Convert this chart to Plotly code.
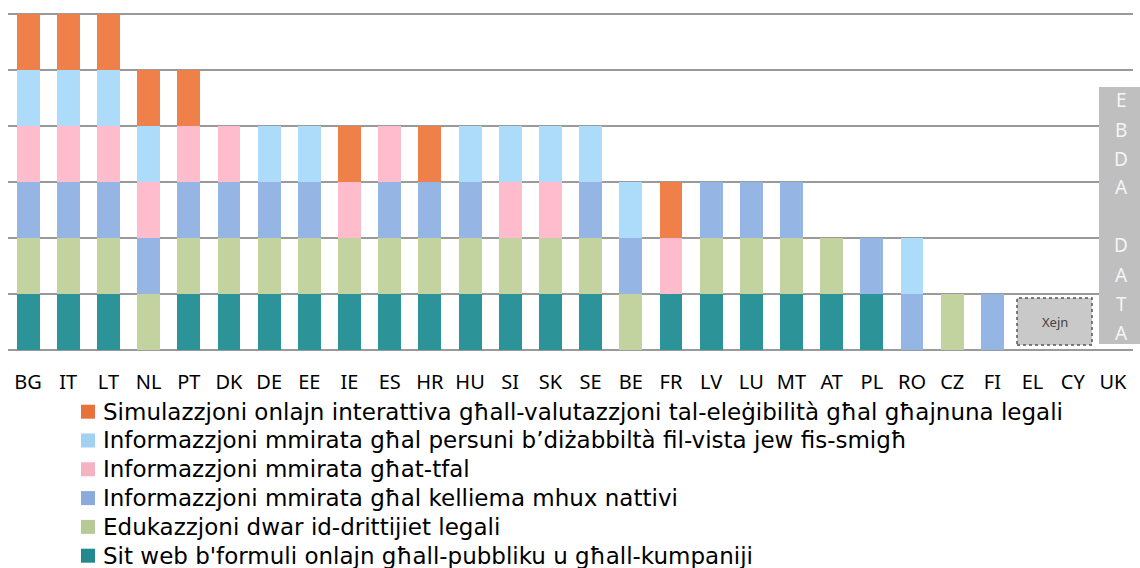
import plotly.graph_objects as go

countries = ["BG", "IT", "LT", "NL", "PT", "DK", "DE", "EE", "IE", "ES", "HR", "HU", "SI", "SK",
             "SE", "BE", "FR", "LV", "LU", "MT", "AT", "PL", "RO", "CZ", "FI", "EL", "CY", "UK"]

website    = [1, 1, 1, 0, 1, 1, 1, 1, 1, 1, 1, 1, 1, 1, 1, 0, 1, 1, 1, 1, 1, 1, 0, 0, 0, 0, 0, 0]
education  = [1, 1, 1, 1, 1, 1, 1, 1, 1, 1, 1, 1, 1, 1, 1, 1, 0, 1, 1, 1, 1, 0, 0, 1, 0, 0, 0, 0]
nonnative  = [1, 1, 1, 1, 1, 1, 1, 1, 0, 1, 1, 1, 0, 0, 1, 1, 0, 1, 1, 1, 0, 1, 1, 0, 1, 0, 0, 0]
children   = [1, 1, 1, 1, 1, 1, 0, 0, 1, 1, 0, 0, 1, 1, 0, 0, 1, 0, 0, 0, 0, 0, 0, 0, 0, 0, 0, 0]
disability = [1, 1, 1, 1, 0, 0, 1, 1, 0, 0, 0, 1, 1, 1, 1, 1, 0, 0, 0, 0, 0, 0, 1, 0, 0, 0, 0, 0]
simulation = [1, 1, 1, 1, 1, 0, 0, 0, 1, 0, 1, 0, 0, 0, 0, 0, 1, 0, 0, 0, 0, 0, 0, 0, 0, 0, 0, 0]

series_names = [
    "Sit web b'formuli onlajn għall-pubbliku u għall-kumpaniji",
    "Edukazzjoni dwar id-drittijiet legali",
    "Informazzjoni mmirata għal kelliema mhux nattivi",
    "Informazzjoni mmirata għat-tfal",
    "Informazzjoni mmirata għal persuni b’diżabbiltà fil-vista jew fis-smigħ",
    "Simulazzjoni onlajn interattiva għall-valutazzjoni tal-eleġibilità għal għajnuna legali",
]
series_values = [website, education, nonnative, children, disability, simulation]
colors = ["#2C9399", "#C3D3A0", "#95B6E5", "#FFBCCC", "#ADDCFB", "#F0804A"]
legend_colors = ["#23898F", "#B7C997", "#8AABDB", "#F5B2C3", "#A3D1F2", "#E8723C"]

no_data_letters = ["E", "B", "D", "A", "", "D", "A", "T", "A"]
none_label = "Xejn"

FONT = "Noto Sans"
LEG_FONT = "DejaVu Sans"

# layout geometry (pixels)
W, H = 1140, 568
ML, MR, MT, MB = 8, 7, 12, 218
PW = W - ML - MR
PH = H - MT - MB
Y_TOP = 6 + 2 / 56.0


def px(xp):
    return (xp - ML) / PW


def py(yp):
    return (H - MB - yp) / PH


fig = go.Figure()
for name, vals, col in zip(series_names, series_values, colors):
    fig.add_trace(go.Bar(x=countries, y=vals, name=name, marker=dict(color=col, line=dict(width=0))))

fig.update_layout(
    barmode="stack",
    bargap=0.43,
    width=W, height=H,
    margin=dict(l=ML, r=MR, t=MT, b=MB, autoexpand=False),
    plot_bgcolor="white", paper_bgcolor="white",
    font=dict(family=FONT, color="black"),
    showlegend=False,
    xaxis=dict(
        type="category",
        tickfont=dict(size=20, family=FONT, color="black"),
        ticklabelstandoff=18,
        showgrid=False, zeroline=False, showline=False,
        ticks="",
    ),
    yaxis=dict(
        range=[0, Y_TOP], dtick=1, tick0=0,
        showticklabels=False,
        showgrid=True, gridcolor="#9a9a9a", gridwidth=2,
        zeroline=True, zerolinecolor="#9a9a9a", zerolinewidth=2,
        showline=False,
    ),
)

# legend (reversed order: last series on top)
row0, row_step = 411.7, 28.8
for i, (name, col) in enumerate(zip(series_names[::-1], legend_colors[::-1])):
    yc = row0 + i * row_step
    fig.add_shape(type="rect", xref="paper", yref="paper",
                  x0=px(81), x1=px(95), y0=py(yc + 7), y1=py(yc - 7),
                  fillcolor=col, line=dict(width=0))
    fig.add_annotation(xref="paper", yref="paper", x=px(101), y=py(yc),
                       xanchor="left", yanchor="middle", text=name, showarrow=False,
                       font=dict(size=23, family=LEG_FONT, color="black"))

# "No data" grey band for UK
fig.add_shape(type="rect", xref="paper", yref="paper",
              x0=px(1099), x1=px(1141), y0=py(344), y1=py(87),
              fillcolor="#BFBFBF", line=dict(width=0), layer="above")
for i, ch in enumerate(no_data_letters):
    if not ch:
        continue
    fig.add_annotation(xref="paper", yref="paper", x=px(1121), y=py(100.5 + i * 29),
                       xanchor="center", yanchor="middle",
                       text=ch, showarrow=False,
                       font=dict(size=19, family=FONT, color="#F5F5F5"))

# "Xejn" box for EL, CY
fig.add_shape(type="rect", xref="paper", yref="paper",
              x0=px(1017), x1=px(1092), y0=py(345), y1=py(298),
              fillcolor="#C9C9C9", line=dict(color="#555555", width=1.5, dash="dot"), layer="above")
fig.add_annotation(xref="paper", yref="paper", x=px(1054.5), y=py(321.5),
                   xanchor="center", yanchor="middle",
                   text=none_label, showarrow=False,
                   font=dict(size=13, family=FONT, color="#444444"))

fig.write_html("out.html", config={"displayModeBar": False},
               post_script="document.body.style.margin='0px';")
